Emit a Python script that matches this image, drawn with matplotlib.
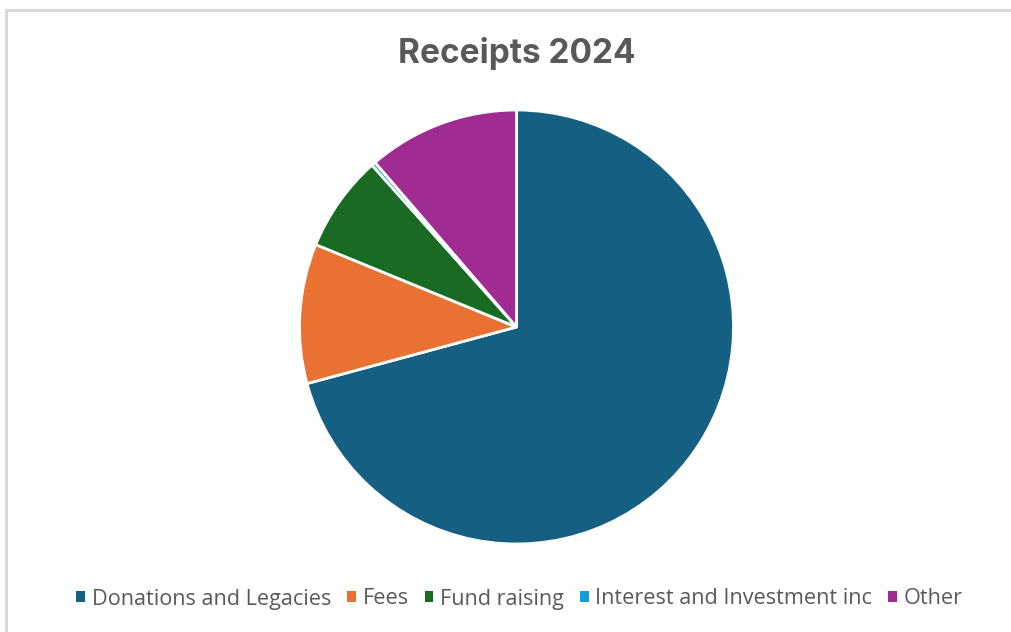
import matplotlib
matplotlib.use('Agg')
import matplotlib.pyplot as plt
from matplotlib.lines import Line2D
from matplotlib.patches import Patch

# data (percent of receipts)
labels = ['Donations and Legacies', 'Fees', 'Fund raising', 'Interest and Investment inc', 'Other']
values = [70.8, 10.4, 7.2, 0.3, 11.3]
colors = ['#156082', '#E97132', '#196B24', '#0F9ED5', '#A02B93']

W, H = 1012, 632
fig = plt.figure(figsize=(W / 100, H / 100), dpi=100)

# chart area border (left and top only visible)
fig.add_artist(Line2D([6.5 / W, 6.5 / W], [0, 1 - 9.5 / H], color='#d9d9d9', lw=2.2))
fig.add_artist(Line2D([6.5 / W, 1], [1 - 9.5 / H, 1 - 9.5 / H], color='#d9d9d9', lw=2.2))

# pie axes: centre (516.5, 327), radius 217 px
cx, cy, r = 516.5, 327, 217
ax = fig.add_axes([(cx - r) / W, (H - cy - r) / H, 2 * r / W, 2 * r / H])
ax.pie(values, colors=colors, startangle=90, counterclock=False,
       wedgeprops=dict(edgecolor='white', linewidth=2.0))
ax.set_xlim(-1, 1)
ax.set_ylim(-1, 1)
ax.set_aspect('auto')
ax.axis('off')

fig.text(cx / W, 1 - 53 / H, 'Receipts 2024', ha='center', va='center',
         fontsize=24, fontweight='bold', color='#595959', family='Inter')

handles = [Patch(facecolor=c, edgecolor='none') for c in colors]
leg = fig.legend(handles, labels, loc='center', bbox_to_anchor=(519.5 / W, 1 - 599 / H),
                 ncol=5, frameon=False, handlelength=0.4, handleheight=0.4,
                 handletextpad=0.3, columnspacing=0.75,
                 prop={'family': 'Open Sans', 'size': 15.6})
for t in leg.get_texts():
    t.set_color('#595959')

fig.savefig('out.png', dpi=100)
